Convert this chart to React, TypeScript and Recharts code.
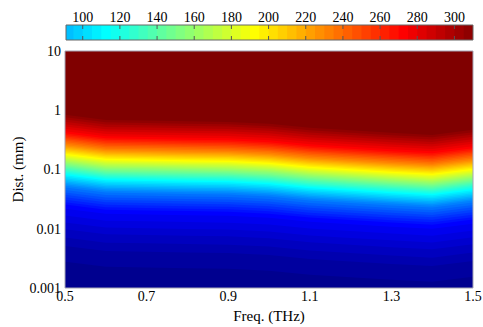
import { Area, ComposedChart, ReferenceArea, ReferenceLine, XAxis, YAxis, Label } from "recharts";

// frequency nodes (THz)
const FREQS = [0.5, 0.6, 0.7, 0.8, 0.9, 1.0, 1.1, 1.2, 1.3, 1.4, 1.5];
// distance (mm) of the yellow (~192) band at each frequency node
const MID_DIST = [0.179, 0.147, 0.143, 0.139, 0.136, 0.126, 0.108, 0.098, 0.089, 0.082, 0.1];
// vertical profile across the band: decades relative to MID_DIST -> value
const PROFILE_OFFSET = [-3, -1.95, -1.6, -1.26, -0.87, -0.54, -0.34, -0.17, 0, 0.17, 0.37, 0.67, 1.0, 3.0];
const PROFILE_VALUE = [-5, -2, 3, 15, 32, 72, 112, 152, 192, 232, 272, 310, 314, 315];

const X_TICKS = [0.5, 0.7, 0.9, 1.1, 1.3, 1.5];
const Y_TICKS = [0.001, 0.01, 0.1, 1, 10];
const CBAR_TICKS = [100, 120, 140, 160, 180, 200, 220, 240, 260, 280, 300];

const C_MIN = -5;
const C_STEP = 5; // 64 colours -> -5 .. 315
const CBAR_MIN = 91;
const CBAR_MAX = 310;
const FONT = "Liberation Serif, serif";

// MATLAB jet(64)
const jet = (i: number) => {
  const r = i < 25 ? 0 : i <= 40 ? (i - 24) / 16 : i <= 56 ? 1 : (72 - i) / 16;
  const g = i < 9 ? 0 : i <= 24 ? (i - 8) / 16 : i <= 40 ? 1 : i <= 55 ? (56 - i) / 16 : 0;
  const b = i <= 8 ? (i + 8) / 16 : i <= 24 ? 1 : i <= 39 ? (40 - i) / 16 : 0;
  const c = (v: number) => Math.round(v * 255);
  return `rgb(${c(r)},${c(g)},${c(b)})`;
};

const BINS = Array.from({ length: 64 }, (_, k) => k + 1);

// where (decades from the band centre) the profile reaches a value
const offsetFor = (v: number) => {
  if (v <= PROFILE_VALUE[0]) return -Infinity;
  for (let k = 0; k < PROFILE_VALUE.length - 1; k++) {
    const a = PROFILE_VALUE[k];
    const b = PROFILE_VALUE[k + 1];
    if (v >= a && v <= b) {
      return PROFILE_OFFSET[k] + ((v - a) / (b - a)) * (PROFILE_OFFSET[k + 1] - PROFILE_OFFSET[k]);
    }
  }
  return Infinity;
};

const clampD = (d: number) => Math.min(10, Math.max(0.001, d));

const shownBins = BINS.filter((i) => C_MIN + (i - 1) * C_STEP < PROFILE_VALUE[PROFILE_VALUE.length - 1]);

const rows = FREQS.map((f, j) => {
  const row: Record<string, number | number[]> = { f };
  shownBins.forEach((i) => {
    const off = offsetFor(C_MIN + (i - 1) * C_STEP);
    const lo = off === -Infinity ? 0.001 : clampD(MID_DIST[j] * Math.pow(10, off));
    row[`b${i}`] = [lo, 10];
  });
  return row;
});

const cbarBins = BINS.filter((i) => C_MIN + i * C_STEP > CBAR_MIN && C_MIN + (i - 1) * C_STEP < CBAR_MAX);
const cbarRows = [{ v: CBAR_MIN, y: 0 }, { v: CBAR_MAX, y: 1 }];

const tickStyle = { fontFamily: FONT, fontSize: 14, fill: "#000" };

const YTitle = (props: any) => {
  const { viewBox } = props;
  const cx = viewBox.x + 18;
  const cy = viewBox.y + viewBox.height / 2;
  return (
    <text x={cx} y={cy} transform={`rotate(-90 ${cx} ${cy})`} textAnchor="middle" dominantBaseline="central"
      style={{ fontFamily: FONT, fontSize: 15 }} fill="#000">
      Dist. (mm)
    </text>
  );
};

const XTitle = (props: any) => {
  const { viewBox } = props;
  return (
    <text x={viewBox.x + viewBox.width / 2} y={viewBox.y + 33} textAnchor="middle"
      style={{ fontFamily: FONT, fontSize: 15 }} fill="#000">
      Freq. (THz)
    </text>
  );
};

export default function App() {
  return (
    <div style={{ position: "absolute", left: 0, top: 0, width: 483, height: 327, background: "#fff" }}>
      <div style={{ position: "absolute", left: 0, top: 0 }}>
        <ComposedChart width={483} height={327} data={rows} margin={{ top: 51, right: 10, bottom: 0, left: 0 }}>
          <XAxis dataKey="f" type="number" domain={[0.5, 1.5]} ticks={X_TICKS} height={39}
            tickLine={false} axisLine={false} tickSize={0} tickMargin={3} tick={tickStyle}
            tickFormatter={(v: number) => v.toFixed(1)} allowDataOverflow>
            <Label content={XTitle} />
          </XAxis>
          <YAxis type="number" scale="log" domain={[0.001, 10]} ticks={Y_TICKS} width={65}
            tickLine={false} axisLine={false} tickSize={0} tickMargin={4} tick={tickStyle}
            tickFormatter={(v: number) => String(v)} allowDataOverflow>
            <Label content={YTitle} />
          </YAxis>
          {shownBins.map((i) => (
            <Area key={i} dataKey={`b${i}`} type="linear" stroke="none" fill={jet(i)} fillOpacity={1}
              dot={false} activeDot={false} isAnimationActive={false} />
          ))}
          <ReferenceArea x1={0.5} x2={1.5} y1={0.001} y2={10} fill="none" stroke="#a4a4b4" strokeWidth={1} />
        </ComposedChart>
      </div>
      <div style={{ position: "absolute", left: 0, top: 0 }}>
        <ComposedChart width={483} height={41} data={cbarRows} margin={{ top: 0, right: 10, bottom: 1, left: 66 }}>
          <XAxis dataKey="v" type="number" orientation="top" domain={[CBAR_MIN, CBAR_MAX]} ticks={CBAR_TICKS} height={25}
            tickLine={false} axisLine={false} tickSize={0} tickMargin={3} tick={tickStyle} allowDataOverflow />
          <YAxis dataKey="y" type="number" hide domain={[0, 1]} width={0} />
          {cbarBins.map((i) => (
            <ReferenceArea key={i} x1={Math.max(CBAR_MIN, C_MIN + (i - 1) * C_STEP)} x2={CBAR_MAX} y1={0} y2={1}
              fill={jet(i)} fillOpacity={1} stroke="none" />
          ))}
          {CBAR_TICKS.map((t) => (
            <ReferenceLine key={t} x={t} stroke="#555" strokeWidth={1} strokeDasharray="4 7 4" />
          ))}
          <ReferenceArea x1={CBAR_MIN} x2={CBAR_MAX} y1={0} y2={1} fill="none" stroke="#666" strokeWidth={1} />
        </ComposedChart>
      </div>
    </div>
  );
}
